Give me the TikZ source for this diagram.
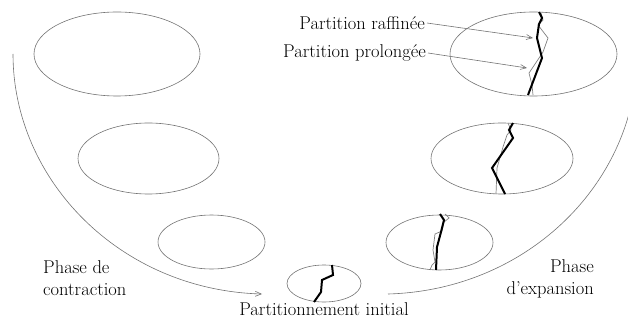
\documentclass[tikz,border=0pt]{standalone}
\usepackage{xcolor}
\usetikzlibrary{arrows.meta}
\usetikzlibrary{shapes.geometric}

\begin{document}
\begin{tikzpicture}[x=1pt,y=-1pt,
    niveau/.style={ellipse,draw=gray!90!black,line width=0.6pt,inner sep=0pt},
    coupe/.style={line width=2pt,line join=miter},
    proj/.style={gray,line width=0.7pt},
    fleche/.style={gray!90!black,line width=0.6pt,-{Straight Barb[length=6pt,width=5pt]}},
    texte/.style={font=\fontsize{18.5}{22}\selectfont,inner sep=0pt}]
	\useasboundingbox (0,0) rectangle (628,320);

	% graphes de la phase de contraction
	\node[niveau,minimum width=166pt,minimum height=84pt] (g1) at (117,54) {};
	\node[niveau,minimum width=141pt,minimum height=71pt] (g2) at (148.5,158.5) {};
	\node[niveau,minimum width=107pt,minimum height=54pt] (g3) at (211.5,242) {};
	\node[niveau,minimum width=74pt,minimum height=37pt] (g0) at (324,283.5) {};
	% graphes de la phase d'expansion
	\node[niveau,minimum width=107pt,minimum height=55pt] (d3) at (439.5,242.5) {};
	\node[niveau,minimum width=142pt,minimum height=71pt] (d2) at (502,158.5) {};
	\node[niveau,minimum width=167pt,minimum height=84pt] (d1) at (533.5,54) {};

	% partitions
	\draw[coupe] (332,265) -- (333,275) -- (322,280) -- (321,292) -- (314,302);

	\draw[proj] (445,214) -- (449,218) -- (444,222) -- (442,231) -- (435,234)
		-- (433,250) -- (435,262) -- (432,265) -- (430,270);
	\draw[coupe] (440,214) -- (444,220) -- (441,232) -- (437,247) -- (436,270);

	\draw[proj] (508,123) -- (511,130) -- (507,135) -- (503,147) -- (497,168) -- (496,194);
	\draw[coupe] (513,123) -- (509,130) -- (513,138) -- (492,168) -- (505,194);

	\draw[proj] (541,13) -- (543,20) -- (538,25) -- (548,38) -- (543,52)
		-- (529,73) -- (532,85) -- (533,95);
	\draw[coupe] (539,12) -- (542,18) -- (539,24) -- (537,38) -- (542,58) -- (528,95);

	% phases
	\coordinate (c0) at (13,54);
	\coordinate (c1) at (262,294);
	\coordinate (e0) at (388,294);
	\coordinate (e1) at (637,54);
	\draw[fleche] (c0) .. controls (13,180) and (120,290) .. (c1);
	\draw[fleche] (e0) .. controls (530,290) and (637,180) .. (e1);

	\node[texte,align=left,anchor=north west] (contr) at (43,260) {Phase de\\contraction};
	\node[texte,align=right,anchor=north east] (expan) at (594,259) {Phase\\d'expansion};
	\node[texte,anchor=base] (init) at (324,315.5) {Partitionnement initial};

	% etiquettes
	\coordinate (praff) at (533,38);
	\coordinate (pprol) at (527,68);
	\node[texte,inner sep=2pt,anchor=east] (raff) at (427,23) {Partition raffinée};
	\node[texte,inner sep=2pt,anchor=east] (prol) at (428,53) {Partition prolongée};
	\draw[fleche] (raff.east) -- (praff);
	\draw[fleche] (prol.east) -- (pprol);
\end{tikzpicture}
\end{document}
